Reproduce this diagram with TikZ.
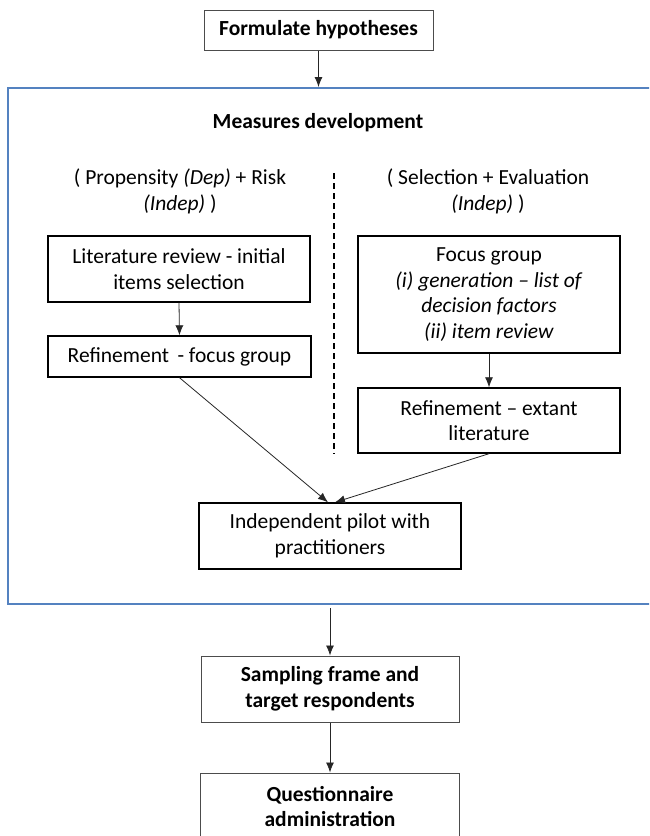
\documentclass[tikz,border=0pt]{standalone}
\usepackage{fontspec}
\setmainfont{Carlito}
\usetikzlibrary{arrows.meta,calc}
\definecolor{frameblue}{RGB}{84,130,192}
\begin{document}
\begin{tikzpicture}[x=1pt,y=-1pt,
  font=\fontsize{21.5}{25.6}\selectfont,
  outerbox/.style={draw=black!70, line width=1pt, fill=white, align=center, inner sep=0pt},
  innerbox/.style={draw=black, line width=1.4pt, fill=white, align=center, inner sep=0pt},
  conn/.style={draw=black!85, line width=0.8pt, -{Latex[length=10pt,width=8pt]}},
  lbl/.style={align=center, inner sep=0pt}]
\useasboundingbox (0,0) rectangle (649,836);
\clip (0,0) rectangle (649,836);
\fill[white] (0,0) rectangle (649,836);
% blue frame
\draw[frameblue, line width=1.5pt] (8,88) rectangle (670,604);
% dashed divider
\draw[black, line width=1.2pt, dash pattern=on 6pt off 4pt] (334,173) -- (334,454);
% titles
\node[lbl] (mtitle) at (318,123) {\textbf{Measures development}};
\node[lbl] (lhead) at (180,191.5) {( Propensity \textit{(Dep)} + Risk\\ \textit{(Indep)} )};
\node[lbl] (rhead) at (488,191.5) {( Selection + Evaluation\\ \textit{(Indep)} )};
% boxes
\node[outerbox, minimum width=229pt, minimum height=40pt] (hyp) at (318.5,30) {\textbf{Formulate hypotheses}};
\node[innerbox, minimum width=262pt, minimum height=66pt] (lit) at (179,269) {Literature review - initial\\ items selection};
\node[innerbox, minimum width=263pt, minimum height=41pt] (ref1) at (179.5,356.5) {Refinement\, - focus group};
\node[innerbox, minimum width=262pt, minimum height=117pt] (focus) at (489,294.5) {Focus group\\ \textit{(i) generation -- list of}\\ \textit{decision factors}\\ \textit{(ii) item review}};
\node[innerbox, minimum width=262pt, minimum height=65pt] (extant) at (489,420.5) {Refinement -- extant\\ literature};
\node[innerbox, minimum width=262pt, minimum height=66pt] (pilot) at (330,536) {Independent pilot with\\ practitioners};
\node[outerbox, minimum width=258pt, minimum height=66pt] (samp) at (330,689) {\textbf{Sampling frame and}\\ \textbf{target respondents}};
\node[outerbox, minimum width=259pt, minimum height=67pt] (quest) at (330,806.5) {\textbf{Questionnaire}\\ \textbf{administration}};
% connectors
\coordinate (ftop) at (318.5,87);
\coordinate (fbot) at (330,608);
\draw[conn] (hyp.south) -- (ftop);
\draw[conn] (lit.south) -- (ref1.north);
\draw[conn] (focus.south) -- (extant.north);
\draw[conn] (ref1.south) -- ($(pilot.north)+(-2,0)$);
\draw[conn] (extant.south) -- ($(pilot.north)+(5,0)$);
\draw[conn] (fbot) -- (samp.north);
\draw[conn] (samp.south) -- (quest.north);
\end{tikzpicture}
\end{document}
